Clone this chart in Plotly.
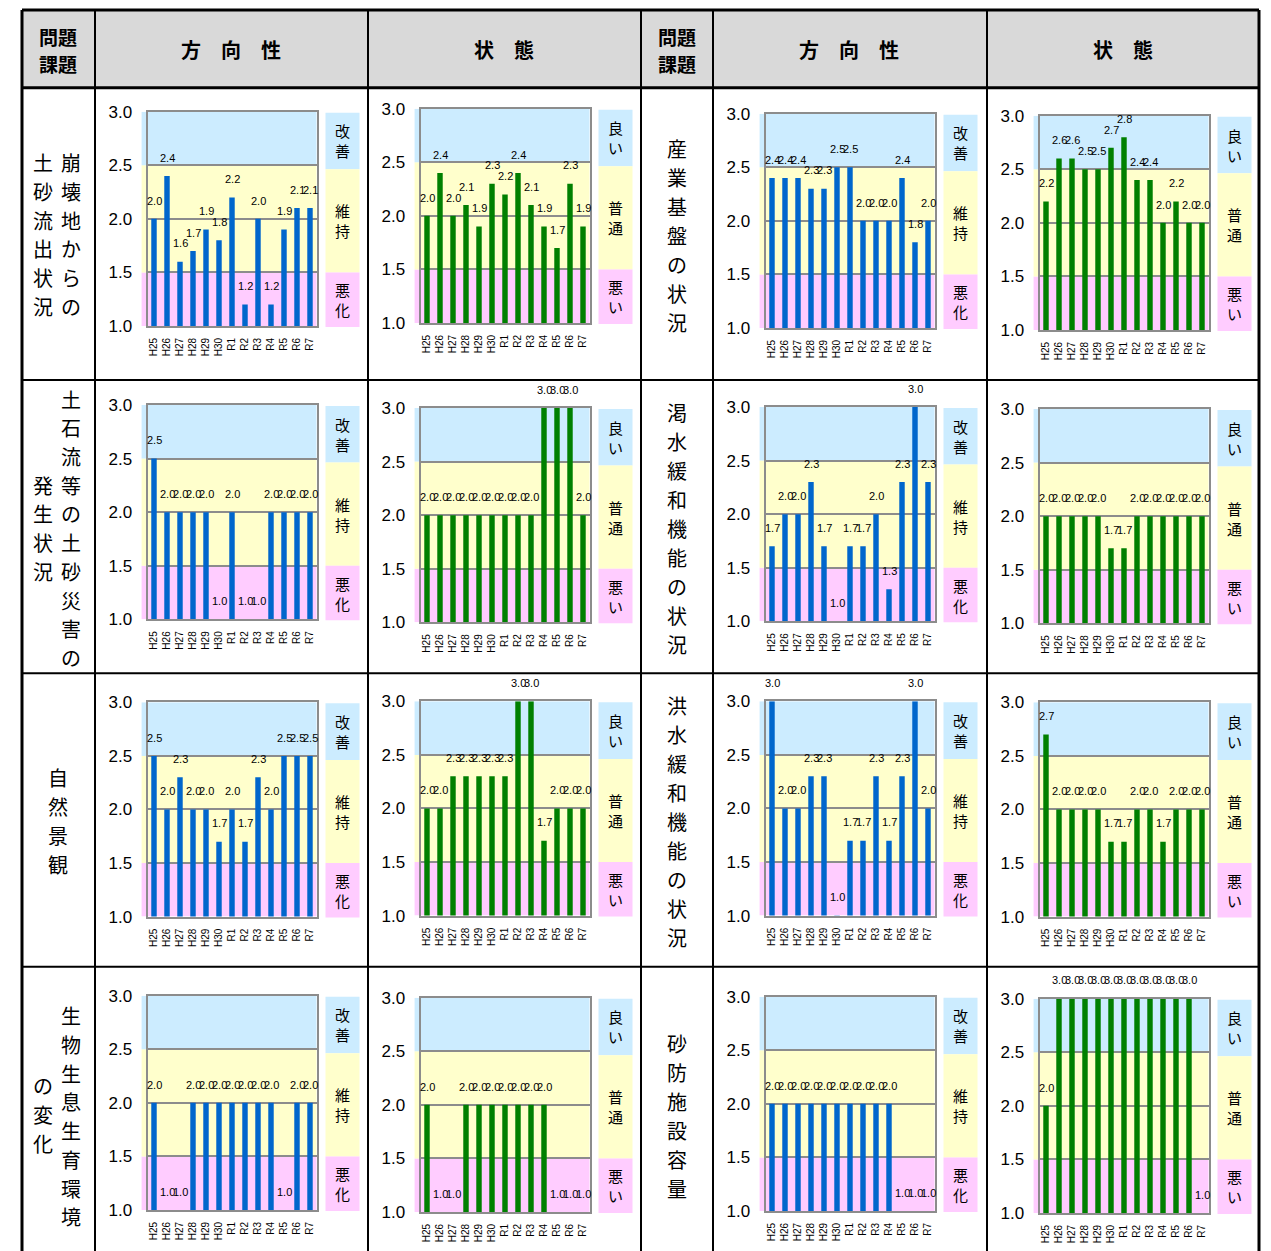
import plotly.graph_objects as go

# ---------------- data ----------------
categories = ["H25", "H26", "H27", "H28", "H29", "H30", "R1", "R2", "R3", "R4", "R5", "R6", "R7"]

houkou_houkai = [2.0, 2.4, 1.6, 1.7, 1.9, 1.8, 2.2, 1.2, 2.0, 1.2, 1.9, 2.1, 2.1]
joutai_houkai = [2.0, 2.4, 2.0, 2.1, 1.9, 2.3, 2.2, 2.4, 2.1, 1.9, 1.7, 2.3, 1.9]
houkou_sangyo = [2.4, 2.4, 2.4, 2.3, 2.3, 2.5, 2.5, 2.0, 2.0, 2.0, 2.4, 1.8, 2.0]
joutai_sangyo = [2.2, 2.6, 2.6, 2.5, 2.5, 2.7, 2.8, 2.4, 2.4, 2.0, 2.2, 2.0, 2.0]
houkou_dosekiryu = [2.5, 2.0, 2.0, 2.0, 2.0, 1.0, 2.0, 1.0, 1.0, 2.0, 2.0, 2.0, 2.0]
joutai_dosekiryu = [2.0, 2.0, 2.0, 2.0, 2.0, 2.0, 2.0, 2.0, 2.0, 3.0, 3.0, 3.0, 2.0]
houkou_kassui = [1.7, 2.0, 2.0, 2.3, 1.7, 1.0, 1.7, 1.7, 2.0, 1.3, 2.3, 3.0, 2.3]
joutai_kassui = [2.0, 2.0, 2.0, 2.0, 2.0, 1.7, 1.7, 2.0, 2.0, 2.0, 2.0, 2.0, 2.0]
houkou_shizen = [2.5, 2.0, 2.3, 2.0, 2.0, 1.7, 2.0, 1.7, 2.3, 2.0, 2.5, 2.5, 2.5]
joutai_shizen = [2.0, 2.0, 2.3, 2.3, 2.3, 2.3, 2.3, 3.0, 3.0, 1.7, 2.0, 2.0, 2.0]
houkou_kouzui = [3.0, 2.0, 2.0, 2.3, 2.3, 1.0, 1.7, 1.7, 2.3, 1.7, 2.3, 3.0, 2.0]
joutai_kouzui = [2.7, 2.0, 2.0, 2.0, 2.0, 1.7, 1.7, 2.0, 2.0, 1.7, 2.0, 2.0, 2.0]
houkou_seibutsu = [2.0, 1.0, 1.0, 2.0, 2.0, 2.0, 2.0, 2.0, 2.0, 2.0, 1.0, 2.0, 2.0]
joutai_seibutsu = [2.0, 1.0, 1.0, 2.0, 2.0, 2.0, 2.0, 2.0, 2.0, 2.0, 1.0, 1.0, 1.0]
houkou_sabo = [2.0, 2.0, 2.0, 2.0, 2.0, 2.0, 2.0, 2.0, 2.0, 2.0, 1.0, 1.0, 1.0]
joutai_sabo = [2.0, 3.0, 3.0, 3.0, 3.0, 3.0, 3.0, 3.0, 3.0, 3.0, 3.0, 3.0, 1.0]

y_ticks = [1.0, 1.5, 2.0, 2.5, 3.0]
houkou_labels = ["改善", "維持", "悪化"]
joutai_labels = ["良い", "普通", "悪い"]
header_labels = ["問題課題", "方　向　性", "状　態"]

# ---------------- geometry helpers (target px -> paper) ----------------
W, H = 1271, 1275
VA, VB = 9.4, 0.984   # observed vertical calibration of the capture


def px(X):
    return X / W


def py(Y):
    return 1 - ((Y - VA) / VB) / H


JP = "Noto Sans CJK JP"
BLUE_BG, YEL_BG, PINK_BG = "#ccecff", "#ffffcc", "#ffccff"
BAR_BLUE, BAR_GREEN = "#0066cc", "#008000"

col_left = {"B": 147.5, "C": 420.5, "E": 765.5, "F": 1039.5}
PW, PH = 169, 214

charts = [
    (houkou_houkai, "h", "B", 112), (joutai_houkai, "j", "C", 109),
    (houkou_sangyo, "h", "E", 114), (joutai_sangyo, "j", "F", 116),
    (houkou_dosekiryu, "h", "B", 405), (joutai_dosekiryu, "j", "C", 408),
    (houkou_kassui, "h", "E", 407), (joutai_kassui, "j", "F", 409),
    (houkou_shizen, "h", "B", 702), (joutai_shizen, "j", "C", 701),
    (houkou_kouzui, "h", "E", 701), (joutai_kouzui, "j", "F", 702),
    (houkou_seibutsu, "h", "B", 995), (joutai_seibutsu, "j", "C", 997),
    (houkou_sabo, "h", "E", 996), (joutai_sabo, "j", "F", 998),
]

fig = go.Figure()
shapes, annotations = [], []
layout_axes = {}

for i, (vals, kind, col, top) in enumerate(charts, start=1):
    sfx = "" if i == 1 else str(i)
    left = col_left[col]
    right = left + PW
    bottom = top + PH
    xa, ya = f"x{sfx}", f"y{sfx}"
    color = BAR_BLUE if kind == "h" else BAR_GREEN
    fig.add_trace(go.Bar(x=categories, y=vals, xaxis=xa, yaxis=ya, width=0.42,
                         marker=dict(color=color, line=dict(width=0)),
                         showlegend=False, hoverinfo="x+y"))
    layout_axes[f"xaxis{sfx}"] = dict(
        domain=[px(left), px(right)], anchor=ya, type="category",
        range=[-0.5, len(categories) - 0.5], showgrid=False,
        showline=True, mirror=True, linecolor="#8c8c8c", linewidth=2,
        tickangle=-90, tickfont=dict(size=10, color="black", family="Liberation Sans"),
        ticks="outside", ticklen=6, tickcolor="rgba(0,0,0,0)", fixedrange=True)
    layout_axes[f"yaxis{sfx}"] = dict(
        domain=[py(bottom), py(top)], anchor=xa, range=[1.0, 3.0],
        tickvals=y_ticks, tickformat=".1f", showgrid=True, gridcolor="#8c8c8c",
        gridwidth=2, zeroline=False, showline=True, mirror=True,
        linecolor="#8c8c8c", linewidth=2,
        tickfont=dict(size=17, color="black", family="Liberation Sans"),
        ticks="outside", ticklen=10, tickcolor="rgba(0,0,0,0)", fixedrange=True)
    # background bands
    for y0, y1, c in [(1.0, 1.5, PINK_BG), (1.5, 2.5, YEL_BG), (2.5, 3.0, BLUE_BG)]:
        shapes.append(dict(type="rect", xref=f"{xa} domain", yref=ya,
                           x0=-0.035, x1=1.0, y0=y0, y1=y1, fillcolor=c,
                           line=dict(width=0), layer="below"))
    # value labels
    for c_, v in zip(categories, vals):
        annotations.append(dict(x=c_, y=v, xref=xa, yref=ya, text=f"{v:.1f}",
                                showarrow=False, yshift=18 / VB, yanchor="middle",
                                font=dict(size=11, color="black", family="Liberation Sans")))
    # right-side legend boxes
    y25 = top + PH * 0.25
    y15 = top + PH * 0.75
    labels = houkou_labels if kind == "h" else joutai_labels
    boxes = [(top + 1, y25 + 4, BLUE_BG, labels[0]),
             (y25 + 4, y15, YEL_BG, labels[1]),
             (y15, bottom + 1, PINK_BG, labels[2])]
    bx0, bx1 = right + 9, right + 43
    for Y0, Y1, c, lab in boxes:
        shapes.append(dict(type="rect", xref="paper", yref="paper",
                           x0=px(bx0), x1=px(bx1), y0=py(Y1), y1=py(Y0),
                           fillcolor=c, line=dict(width=0), layer="below"))
        cy = (Y0 + Y1) / 2
        annotations.append(dict(x=px((bx0 + bx1) / 2), y=py(cy),
                                xref="paper", yref="paper", text="<br>".join(lab),
                                showarrow=False, xanchor="center", yanchor="middle",
                                font=dict(size=15, color="black", family=JP)))

# ---------------- table ----------------
TL, TR, TT, HB = 22, 1259, 10.5, 88
shapes.append(dict(type="rect", xref="paper", yref="paper", x0=px(TL), x1=px(TR),
                   y0=py(HB), y1=py(TT), fillcolor="#d9d9d9", line=dict(width=0),
                   layer="below"))
BOT = 1265
for X in [95, 368, 641, 713, 987]:
    shapes.append(dict(type="line", xref="paper", yref="paper", x0=px(X), x1=px(X),
                       y0=py(TT), y1=py(BOT), line=dict(color="black", width=2)))
for X in [TL, TR]:
    shapes.append(dict(type="line", xref="paper", yref="paper", x0=px(X), x1=px(X),
                       y0=py(TT), y1=py(BOT), line=dict(color="black", width=3)))
shapes.append(dict(type="line", xref="paper", yref="paper", x0=px(TL), x1=px(TR),
                   y0=py(TT), y1=py(TT), line=dict(color="black", width=3)))
shapes.append(dict(type="line", xref="paper", yref="paper", x0=px(TL), x1=px(TR),
                   y0=py(HB), y1=py(HB), line=dict(color="black", width=3)))
for Y in [380, 673, 966]:
    shapes.append(dict(type="line", xref="paper", yref="paper", x0=px(TL), x1=px(TR),
                       y0=py(Y), y1=py(Y), line=dict(color="black", width=2)))


def txt(X, Y, s, size=20, bold=False):
    annotations.append(dict(x=px(X), y=py(Y), xref="paper", yref="paper",
                            text=f"<b>{s}</b>" if bold else s, showarrow=False,
                            xanchor="center", yanchor="middle",
                            font=dict(size=size, color="black", family=JP)))


def vtext(X, Y0, s, step=28.7, size=20):
    for k, ch in enumerate(s):
        txt(X, Y0 + step * k, ch, size=size)


# header
for X in [58, 677]:
    txt(X, 37, header_labels[0][:2], size=19, bold=True)
    txt(X, 64, header_labels[0][2:], size=19, bold=True)
for X in [231, 849]:
    txt(X, 50, header_labels[1], size=20, bold=True)
for X in [504, 1123]:
    txt(X, 50, header_labels[2], size=20, bold=True)

# left topic labels
vtext(71, 163, "崩壊地からの")
vtext(43, 163, "土砂流出状況")
vtext(71, 399, "土石流等の土砂災害の")
vtext(43, 485, "発生状況")
vtext(58, 777, "自然景観", step=29)
vtext(71, 1015, "生物生息生育環境")
vtext(43, 1085, "の変化")
# right topic labels
vtext(677, 149, "産業基盤の状況", step=29)
vtext(677, 412, "渇水緩和機能の状況", step=29)
vtext(677, 705, "洪水緩和機能の状況", step=29)
vtext(677, 1043, "砂防施設容量", step=29)

fig.update_layout(
    width=W, height=H, margin=dict(l=0, r=0, t=0, b=0, pad=0),
    paper_bgcolor="white", plot_bgcolor="rgba(0,0,0,0)",
    showlegend=False, bargap=0.58,
    shapes=shapes, annotations=annotations,
    font=dict(family="Liberation Sans", color="black"),
    **layout_axes,
)

pin_script = (
    "var gd=document.getElementById('{plot_id}');"
    "document.documentElement.style.margin='0';"
    "document.body.style.margin='0';"
    "document.body.style.overflow='hidden';"
    "gd.style.position='fixed';gd.style.top='0px';gd.style.left='0px';"
)

fig.write_html("out.html", post_script=pin_script,
               config={"displayModeBar": False})
